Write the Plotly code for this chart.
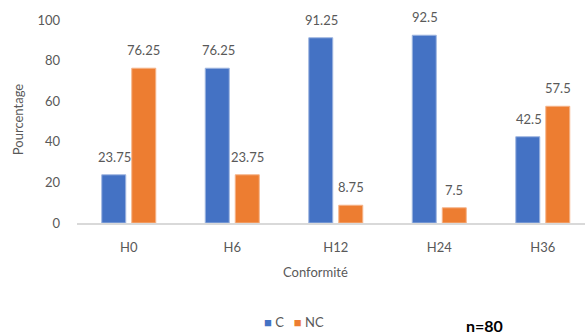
import plotly.graph_objects as go

categories = ["H0", "H6", "H12", "H24", "H36"]
c_values = [23.75, 76.25, 91.25, 92.5, 42.5]
nc_values = [76.25, 23.75, 8.75, 7.5, 57.5]
c_labels = ["23.75", "76.25", "91.25", "92.5", "42.5"]
nc_labels = ["76.25", "23.75", "8.75", "7.5", "57.5"]
series_names = ["C", "NC"]

BLUE = "#4472C4"
ORANGE = "#ED7D31"
GREY = "#595959"
FONT = "Lato"

fig = go.Figure()
fig.add_trace(go.Bar(x=categories, y=c_values, name=series_names[0],
                     marker=dict(color=BLUE, line=dict(color="#9fb6e0", width=1))))
fig.add_trace(go.Bar(x=categories, y=nc_values, name=series_names[1],
                     marker=dict(color=ORANGE, line=dict(color="#f5b48a", width=1))))

# data labels
for i, (v, lab) in enumerate(zip(c_values, c_labels)):
    fig.add_annotation(x=i, y=v, text=lab, showarrow=False, xref="x", yref="y",
                       xshift=-14, yanchor="bottom", yshift=8,
                       font=dict(family=FONT, size=13, color=GREY))
for i, (v, lab) in enumerate(zip(nc_values, nc_labels)):
    fig.add_annotation(x=i, y=v, text=lab, showarrow=False, xref="x", yref="y",
                       xshift=15, yanchor="bottom", yshift=8,
                       font=dict(family=FONT, size=13, color=GREY))

fig.add_annotation(text="Pourcentage", textangle=-90, xref="paper", yref="paper",
                   x=-0.116, y=0.507, showarrow=False, xanchor="center", yanchor="middle",
                   font=dict(family=FONT, size=13, color=GREY))
fig.add_annotation(text="Conformité", xref="paper", yref="paper",
                   x=0.469, y=-0.241, showarrow=False, xanchor="center", yanchor="middle",
                   font=dict(family=FONT, size=13, color=GREY))

# compact legend (Excel style)
legend_text = (f"<span style='color:{BLUE}'>■</span> {series_names[0]}   "
               f"<span style='color:{ORANGE}'>■</span> {series_names[1]}")
fig.add_annotation(text=legend_text, xref="paper", yref="paper",
                   x=0.427, y=-0.488, showarrow=False, xanchor="center", yanchor="middle",
                   font=dict(family=FONT, size=13, color=GREY))

fig.add_annotation(text="<b>n=80</b>", xref="paper", yref="paper",
                   x=0.803, y=-0.505, showarrow=False, xanchor="center", yanchor="middle",
                   font=dict(family=FONT, size=16, color="black"))

fig.update_layout(
    width=585, height=335,
    margin=dict(l=77, r=0, t=20, b=112),
    paper_bgcolor="white", plot_bgcolor="white",
    barmode="group", bargap=0.42, bargroupgap=0.2,
    font=dict(family=FONT, size=13, color=GREY),
    showlegend=False,
    xaxis=dict(type="category", range=[-0.5, 4.408], showgrid=False, showline=True,
               linecolor="#d9d9d9", linewidth=1.5, ticks="", ticklabelstandoff=12,
               tickfont=dict(family=FONT, size=13, color=GREY), zeroline=False),
    yaxis=dict(range=[0, 100], tickvals=[0, 20, 40, 60, 80, 100], showgrid=False,
               showline=False, zeroline=False, ticks="", ticklabelstandoff=16,
               tickfont=dict(family=FONT, size=13, color=GREY)),
)

fig.write_html("out.html")
